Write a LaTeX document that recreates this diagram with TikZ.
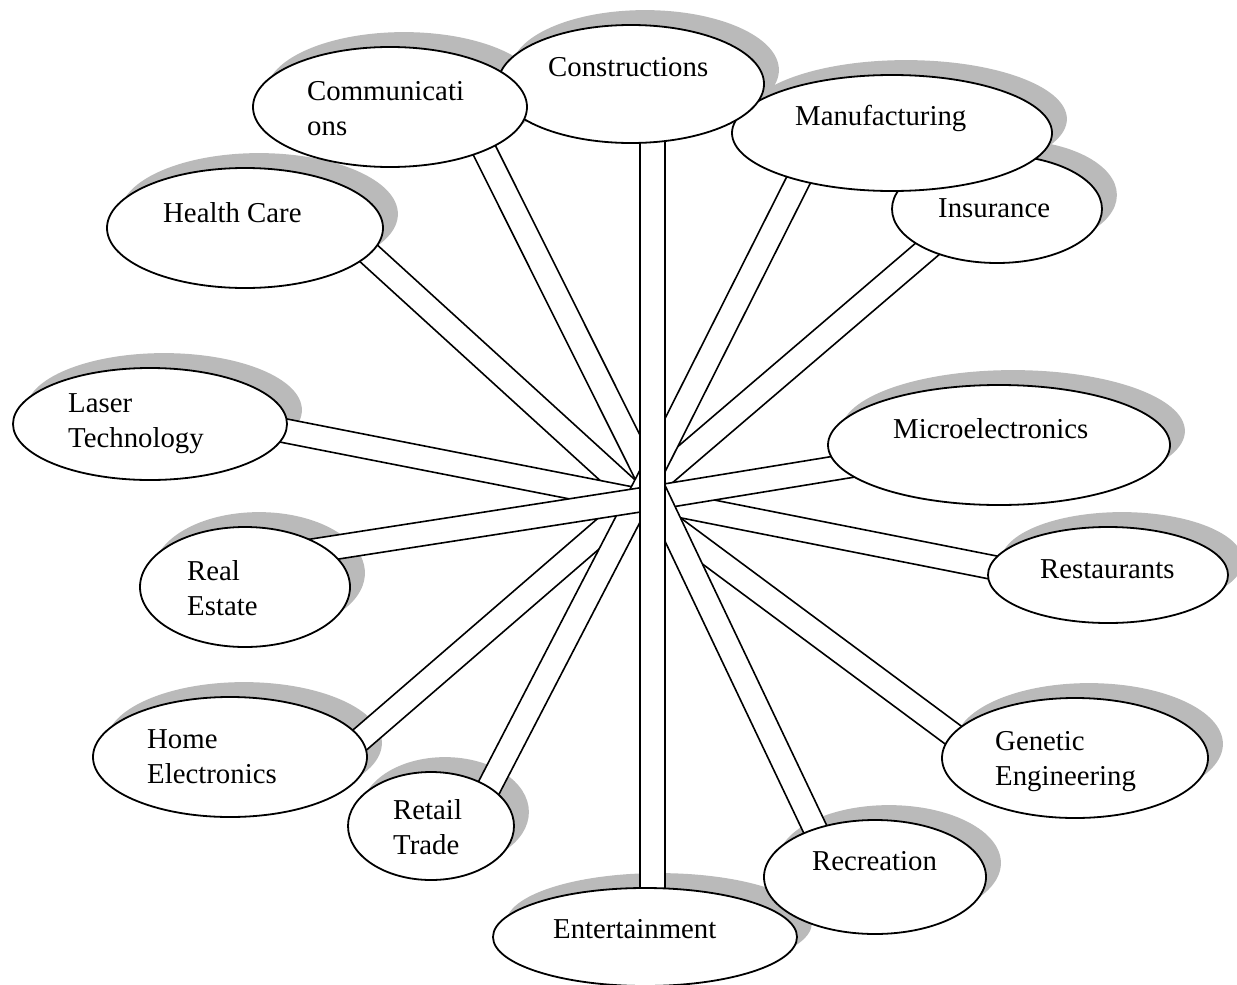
\documentclass[tikz,border=0pt]{standalone}
\usepackage{fontspec}
\setmainfont{Liberation Serif}
\usetikzlibrary{calc,shapes.geometric}
\pgfdeclarelayer{shade}
\pgfdeclarelayer{background}
\pgfsetlayers{shade,background,main}
\tikzset{
  bub/.style ={ellipse,draw,line width=1.8pt,fill=white,inner sep=0pt},
  lbl/.style ={anchor=base west,align=left,inner sep=0pt,font=\fontsize{28.8}{35}\selectfont},
  shd/.style ={fill=black!27},
  spk/.style ={line width=1.6pt,fill=white,line join=round},
  band/.style={line width=1.6pt,fill=white},
}
% one spoke: a white band from near the hub into an ellipse
% #1 ellipse, #2 border angle, #3 vertical offset at the hub
\newcommand\spoke[3]{%
  \path ($(hub)+(0,#3)$) coordinate (s0) ($(#1.#2)!-30pt!(s0)$) coordinate (s1);
  \filldraw[spk] ($(s0)!12pt!90:(s1)$) -- ($(s1)!12pt!-90:(s0)$)
    -- ($(s1)!12pt!90:(s0)$) -- ($(s0)!12pt!-90:(s1)$) -- cycle;
}

\begin{document}
\begin{tikzpicture}[x=1pt,y=-1pt]
  \useasboundingbox (0,0) rectangle (1237,985);
  \coordinate (hub) at (652.5,487);
  % ellipses
  \node[bub,minimum width=210,minimum height=108] (ins) at (997,209) {};
  \node[bub,minimum width=320,minimum height=116] (man) at (892,133) {};
  \node[bub,minimum width=266,minimum height=118] (con) at (631,84) {};
  \node[bub,minimum width=274,minimum height=120] (com) at (390,107) {};
  \node[bub,minimum width=276,minimum height=120] (hc)  at (245,228) {};
  \node[bub,minimum width=274,minimum height=112] (las) at (150,424) {};
  \node[bub,minimum width=342,minimum height=120] (mic) at (999,445) {};
  \node[bub,minimum width=210,minimum height=120] (rea) at (245,587) {};
  \node[bub,minimum width=240,minimum height=96]  (res) at (1108,575) {};
  \node[bub,minimum width=274,minimum height=120] (hom) at (230,757) {};
  \node[bub,minimum width=166,minimum height=108] (ret) at (431,826) {};
  \node[bub,minimum width=266,minimum height=120] (gen) at (1075,758) {};
  \node[bub,minimum width=222,minimum height=114] (rec) at (875,877) {};
  \node[bub,minimum width=304,minimum height=98]  (ent) at (645,937) {};
  % texts (two-line texts sit on their last baseline)
  \node[lbl] (ins-t) at ([shift={(-59,8)}]ins.center)   {Insurance};
  \node[lbl] (man-t) at ([shift={(-97,-8)}]man.center)  {Manufacturing};
  \node[lbl] (con-t) at ([shift={(-83,-8)}]con.center)  {Constructions};
  \node[lbl] (com-t) at ([shift={(-83,28)}]com.center)  {Communicati\\ons};
  \node[lbl] (hc-t)  at ([shift={(-82,-6)}]hc.center)   {Health Care};
  \node[lbl] (las-t) at ([shift={(-82,23)}]las.center)  {Laser\\Technology};
  \node[lbl] (mic-t) at ([shift={(-106,-7)}]mic.center) {Microelectronics};
  \node[lbl] (rea-t) at ([shift={(-58,28)}]rea.center)  {Real\\Estate};
  \node[lbl] (res-t) at ([shift={(-68,3)}]res.center)   {Restaurants};
  \node[lbl] (hom-t) at ([shift={(-83,26)}]hom.center)  {Home\\Electronics};
  \node[lbl] (ret-t) at ([shift={(-38,28)}]ret.center)  {Retail\\Trade};
  \node[lbl] (gen-t) at ([shift={(-80,27)}]gen.center)  {Genetic\\Engineering};
  \node[lbl] (rec-t) at ([shift={(-63,-7)}]rec.center)  {Recreation};
  \node[lbl] (ent-t) at ([shift={(-92,1)}]ent.center)   {Entertainment};
  % spokes
  \begin{pgfonlayer}{background}
    \spoke{com}{-25}{0}
    \spoke{hc}{-12}{25}
    \spoke{las}{-3}{16}
    \spoke{hom}{8}{0}
    \spoke{ret}{34}{-15}
    \spoke{rea}{25}{11}
    \spoke{gen}{169}{25}
    \spoke{ins}{210}{-3}
    \spoke{res}{176}{13}
    \spoke{man}{207}{-17}
    \spoke{mic}{188}{11}
    \spoke{rec}{141}{0}
    \draw[band] ($(hub |- con.center)+(-12.5,0)$) rectangle ($(hub |- ent.center)+(12.5,0)$);
  \end{pgfonlayer}
  % shadows
  \begin{pgfonlayer}{shade}
    \foreach \b in {ins,man,con,com,hc,las,mic,rea,res,hom,ret,gen,rec,ent}
      \fill[shd] let \p1=(\b.center), \p2=(\b.east), \p3=(\b.north) in
        ([shift={(14,-14)}]\b.center) ellipse ({\x2-\x1} and {\y3-\y1});
  \end{pgfonlayer}
\end{tikzpicture}
\end{document}
